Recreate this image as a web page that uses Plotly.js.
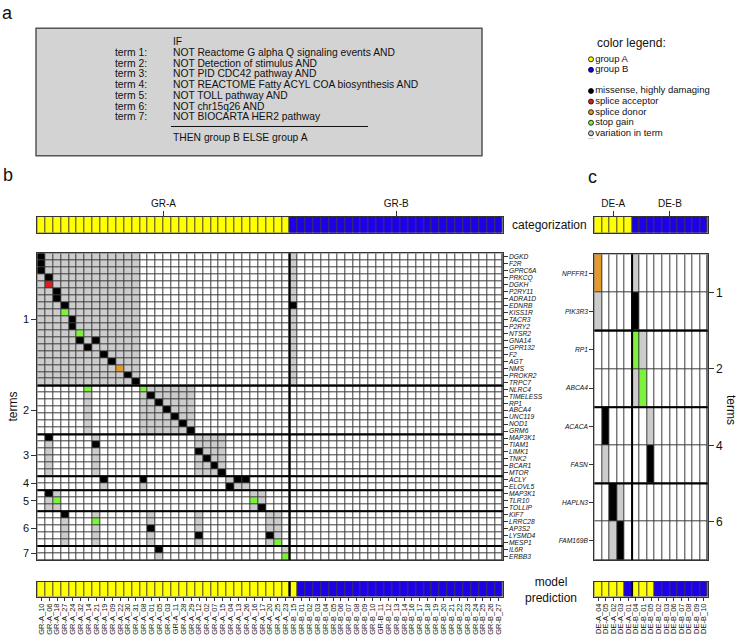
<!DOCTYPE html>
<html><head><meta charset="utf-8">
<script src="https://cdn.plot.ly/plotly-3.0.1.min.js"></script>
<style>html,body{margin:0;padding:0;background:#fff}</style>
</head><body><div id="chart" style="width:738px;height:640px"></div>
<script>
// ---------------- DATA ----------------
// panel a: rule
const ruleTerms = ['Reactome G alpha Q signaling events','Detection of stimulus','PID CDC42 pathway',
  'REACTOME Fatty ACYL COA biosynthesis','TOLL pathway','chr15q26','BIOCARTA HER2 pathway'];

// panel b: GR samples (column order)
const grSamples = ['GR-A_10','GR-A_06','GR-A_18','GR-A_27','GR-A_24','GR-A_32','GR-A_14','GR-A_21','GR-A_19','GR-A_09',
  'GR-A_22','GR-A_30','GR-A_31','GR-A_08','GR-A_01','GR-A_05','GR-A_03','GR-A_11','GR-A_28','GR-A_29','GR-A_12','GR-A_02',
  'GR-A_07','GR-A_15','GR-A_04','GR-A_13','GR-A_26','GR-A_16','GR-A_17','GR-A_20','GR-A_25','GR-A_23',
  'GR-B_15','GR-B_01','GR-B_02','GR-B_03','GR-B_04','GR-B_05','GR-B_06','GR-B_07','GR-B_08','GR-B_09','GR-B_10','GR-B_11',
  'GR-B_12','GR-B_13','GR-B_14','GR-B_16','GR-B_17','GR-B_18','GR-B_19','GR-B_20','GR-B_21','GR-B_22','GR-B_23','GR-B_24',
  'GR-B_25','GR-B_26','GR-B_27'];
const grCategory   = 'AAAAAAAAAAAAAAAAAAAAAAAAAAAAAAAABBBBBBBBBBBBBBBBBBBBBBBBBBB'.split('');
const grPrediction = 'AAAAAAAAAAAAAAAAAAAAAAAAAAAAAAAAABBBBBBBBBBBBBBBBBBBBBBBBBB'.split('');
const grGenes = ['DGKD','F2R','GPRC6A','PRKCQ','DGKH','P2RY11','ADRA1D','EDNRB','KISS1R','TACR3','P2RY2','NTSR2','GNA14',
  'GPR132','F2','AGT','NMS','PROKR2','TRPC7',
  'NLRC4','TIMELESS','RP1','ABCA4','UNC119','NOD1','GRM6',
  'MAP3K1','TIAM1','LIMK1','TNK2','BCAR1','MTOR',
  'ACLY','ELOVL5',
  'MAP3K1','TLR10','TOLLIP',
  'KIF7','LRRC28','AP3S2','LYSMD4','MESP1',
  'IL6R','ERBB3'];
const grGeneTerm = [1,1,1,1,1,1,1,1,1,1,1,1,1,1,1,1,1,1,1, 2,2,2,2,2,2,2, 3,3,3,3,3,3, 4,4, 5,5,5, 6,6,6,6,6, 7,7];
// variants: gene, term, sample, type
const grMutGene = ['DGKD','F2R','GPRC6A','PRKCQ','DGKH','P2RY11','ADRA1D','EDNRB','KISS1R','TACR3','P2RY2','NTSR2','GNA14',
  'GPR132','GNA14','F2','AGT','NMS','PROKR2','TRPC7','EDNRB',
  'NLRC4','NLRC4','TIMELESS','RP1','ABCA4','UNC119','NOD1','GRM6',
  'MAP3K1','TIAM1','LIMK1','TNK2','BCAR1','MTOR',
  'ACLY','ACLY','ELOVL5','ACLY','ACLY',
  'MAP3K1','TLR10','TLR10','TOLLIP',
  'KIF7','LRRC28','AP3S2','LYSMD4','LYSMD4','MESP1',
  'IL6R','ERBB3'];
const grMutTerm = [1,1,1,1,1,1,1,1,1,1,1,1,1,1,1,1,1,1,1,1,1, 2,2,2,2,2,2,2,2, 3,3,3,3,3,3, 4,4,4,4,4, 5,5,5,5, 6,6,6,6,6,6, 7,7];
const grMutSample = ['GR-A_10','GR-A_10','GR-A_10','GR-A_06','GR-A_06','GR-A_18','GR-A_18','GR-A_27','GR-A_27','GR-A_24','GR-A_24',
  'GR-A_32','GR-A_32','GR-A_14','GR-A_21','GR-A_19','GR-A_09','GR-A_22','GR-A_30','GR-A_31','GR-B_15',
  'GR-A_14','GR-A_08','GR-A_01','GR-A_05','GR-A_03','GR-A_11','GR-A_28','GR-A_29',
  'GR-A_06','GR-A_21','GR-A_12','GR-A_02','GR-A_07','GR-A_15',
  'GR-A_19','GR-A_08','GR-A_04','GR-A_13','GR-A_26',
  'GR-A_06','GR-A_18','GR-A_16','GR-A_17',
  'GR-A_27','GR-A_21','GR-A_01','GR-A_12','GR-A_20','GR-A_25',
  'GR-A_05','GR-A_23'];
const grMutType = ['M','M','M','M','SA','M','M','M','SG','M','M','SG','M','M','M','M','M','SD','M','M','M',
  'SG','SG','M','M','M','M','M','M',
  'M','M','M','M','M','M',
  'M','M','M','M','M',
  'M','SG','SG','M',
  'M','SG','M','M','M','SG',
  'M','SG'];

// panel c: DE samples
const deSamples = ['DE-A_04','DE-A_05','DE-A_02','DE-A_03','DE-A_01','DE-B_04','DE-B_01','DE-B_05','DE-B_02','DE-B_03',
  'DE-B_06','DE-B_07','DE-B_08','DE-B_09','DE-B_10'];
const deCategory   = 'AAAAABBBBBBBBBB'.split('');
const dePrediction = 'AAAABAAABBBBBBB'.split('');
const deGenes = ['NPFFR1','PIK3R3','RP1','ABCA4','ACACA','FASN','HAPLN3','FAM169B'];
const deGeneTerm = [1,1,2,2,4,4,6,6];
const deMutGene = ['NPFFR1','PIK3R3','RP1','ABCA4','ACACA','FASN','HAPLN3','FAM169B'];
const deMutTerm = [1,1,2,2,4,4,6,6];
const deMutSample = ['DE-A_04','DE-B_04','DE-B_04','DE-B_01','DE-A_05','DE-B_05','DE-A_02','DE-A_03'];
const deMutType = ['SD','M','SG','SG','M','M','M','M'];

// legend
const legendLabels = ['group A','group B','missense, highly damaging','splice acceptor','splice donor','stop gain','variation in term'];
const legendKeys   = ['A','B','M','SA','SD','SG','V'];

// ---------------- STYLE ----------------
const FONT = 'Liberation Sans, Arial, Helvetica, sans-serif';
const W = 738, H = 640;
const px = x => x / W, py = y => 1 - y / H;
const COLORS = {A:'#ffff00', B:'#1e00e6', N:'#ffffff', V:'#cccccc', M:'#000000', SA:'#d42020', SD:'#e39a2d', SG:'#7cf23c'};
const CODE = {N:0, V:1, M:2, SA:3, SD:4, SG:5};
const mutScale = [[0,COLORS.N],[0.1,COLORS.N],[0.1,COLORS.V],[0.3,COLORS.V],[0.3,COLORS.M],[0.5,COLORS.M],
  [0.5,COLORS.SA],[0.7,COLORS.SA],[0.7,COLORS.SD],[0.9,COLORS.SD],[0.9,COLORS.SG],[1,COLORS.SG]];
const grpScale = [[0,COLORS.A],[0.5,COLORS.A],[0.5,COLORS.B],[1,COLORS.B]];

function buildZ(genes, gTerm, samples, mGene, mTerm, mSample, mType) {
  const z = genes.map(() => samples.map(() => CODE.N));
  const rowOf = i => genes.findIndex((g, r) => g === mGene[i] && gTerm[r] === mTerm[i]);
  mGene.forEach((g, i) => {
    const c = samples.indexOf(mSample[i]);
    gTerm.forEach((t, r) => { if (t === mTerm[i] && z[r][c] === CODE.N) z[r][c] = CODE.V; });
  });
  mGene.forEach((g, i) => { z[rowOf(i)][samples.indexOf(mSample[i])] = CODE[mType[i]]; });
  return z;
}
function termCenters(gTerm) {
  const terms = [...new Set(gTerm)];
  return {vals: terms.map(t => (gTerm.indexOf(t) + gTerm.lastIndexOf(t)) / 2), text: terms.map(String)};
}
function termBounds(gTerm) {
  const b = []; for (let r = 0; r < gTerm.length - 1; r++) if (gTerm[r] !== gTerm[r+1]) b.push(r + 0.5); return b;
}
const groupBoundary = cats => cats.indexOf('B') - 0.5;
const groupCenters = cats => ['A','B'].map(g => (cats.indexOf(g) + cats.lastIndexOf(g)) / 2);
const idx = arr => arr.map((_, i) => i);

const grZ = buildZ(grGenes, grGeneTerm, grSamples, grMutGene, grMutTerm, grMutSample, grMutType);
const deZ = buildZ(deGenes, deGeneTerm, deSamples, deMutGene, deMutTerm, deMutSample, deMutType);

const hm = (z, xa, ya, scale, zmax, ygap) => ({type:'heatmap', z, x: idx(z[0]), y: idx(z), xaxis: xa, yaxis: ya,
  colorscale: scale, zmin: 0, zmax, showscale: false, xgap: 1, ygap, hoverinfo: 'skip'});
const grpZ = cats => [cats.map(g => g === 'A' ? 0 : 1)];

const traces = [
  hm(grZ, 'x', 'y', mutScale, 5, 1),
  hm(grpZ(grCategory), 'x2', 'y3', grpScale, 1, 0),
  hm(grpZ(grPrediction), 'x3', 'y4', grpScale, 1, 0),
  hm(deZ, 'x4', 'y5', mutScale, 5, 1),
  hm(grpZ(deCategory), 'x5', 'y7', grpScale, 1, 0),
  hm(grpZ(dePrediction), 'x6', 'y8', grpScale, 1, 0),
  {type:'scatter', x:[null], y:[null], xaxis:'x', yaxis:'y2', showlegend:false, hoverinfo:'skip'},
  {type:'scatter', x:[null], y:[null], xaxis:'x4', yaxis:'y6', showlegend:false, hoverinfo:'skip'},
  {type:'scatter', mode:'markers+text', xaxis:'x7', yaxis:'y9', cliponaxis:false, showlegend:false, hoverinfo:'skip',
    x: legendLabels.map(() => 0), y: legendKeys.map((k, i) => i < 2 ? i : i + 1),
    text: legendLabels, textposition:'middle right', textfont:{family:FONT, size:9.5, color:'#111'},
    marker:{size:5, color: legendKeys.map(k => COLORS[k]), line:{color:'#000', width:0.8}}}
];

// ---------------- LAYOUT ----------------
const base = {showgrid:false, zeroline:false, showline:true, mirror:true, linecolor:'#333', linewidth:1,
  ticks:'', showticklabels:false, fixedrange:true};
const bX = [px(37.3), px(502.7)], cX = [px(594.3), px(707.7)];
const gridY = [py(560), py(253.3)], cGridY = [py(560), py(254.3)];
const catY = [py(232.7), py(216.7)], predY = [py(596.5), py(581.5)];
const nGR = grSamples.length, nDE = deSamples.length;
const grTC = termCenters(grGeneTerm), deTC = termCenters(deGeneTerm);
const tickF = s => ({family:FONT, size:s, color:'#111'});
const geneF = {family:FONT, size:6.7, color:'#111', style:'italic'};

const layout = {
  width: W, height: H, autosize: false, margin:{l:0,r:0,t:0,b:0},
  paper_bgcolor:'#ffffff', plot_bgcolor:'#3a3a3a', showlegend:false,
  font:{family:FONT, color:'#111'},
  xaxis:  {...base, domain:bX, range:[-0.5, nGR-0.5], anchor:'y'},
  yaxis:  {...base, domain:gridY, range:[grGenes.length-0.5, -0.5], anchor:'x', ticks:'outside', ticklen:5,
           tickcolor:'#333', showticklabels:true, tickvals:grTC.vals, ticktext:grTC.text, tickfont:tickF(11)},
  yaxis2: {showgrid:false, zeroline:false, showline:false, fixedrange:true, overlaying:'y', side:'right', anchor:'x',
           range:[grGenes.length-0.5, -0.5], tickvals:idx(grGenes), ticktext:grGenes, ticks:'outside', ticklen:4,
           tickcolor:'#333', tickfont:geneF},
  xaxis2: {...base, domain:bX, range:[-0.5, nGR-0.5], anchor:'y3', side:'top', ticks:'outside', ticklen:5,
           tickcolor:'#333', showticklabels:true, tickvals:groupCenters(grCategory), ticktext:['GR-A','GR-B'], tickfont:tickF(10)},
  yaxis3: {...base, domain:catY, range:[-0.5,0.5], anchor:'x2'},
  xaxis3: {...base, domain:bX, range:[-0.5, nGR-0.5], anchor:'y4', side:'bottom', ticks:'outside', ticklen:3,
           tickcolor:'#333', showticklabels:true, tickvals:idx(grSamples), ticktext:grSamples, tickangle:-90, tickfont:tickF(7.5)},
  yaxis4: {...base, domain:predY, range:[-0.5,0.5], anchor:'x3'},
  xaxis4: {...base, domain:cX, range:[-0.5, nDE-0.5], anchor:'y5'},
  yaxis5: {...base, domain:cGridY, range:[deGenes.length-0.5, -0.5], anchor:'x4', side:'left', ticks:'outside', ticklen:4,
           tickcolor:'#333', showticklabels:true, tickvals:idx(deGenes), ticktext:deGenes, tickfont:geneF},
  yaxis6: {showgrid:false, zeroline:false, showline:false, fixedrange:true, overlaying:'y5', side:'right', anchor:'x4',
           range:[deGenes.length-0.5, -0.5], tickvals:deTC.vals, ticktext:deTC.text, ticks:'outside', ticklen:5,
           tickcolor:'#333', tickfont:tickF(12)},
  xaxis5: {...base, domain:cX, range:[-0.5, nDE-0.5], anchor:'y7', side:'top', ticks:'outside', ticklen:5,
           tickcolor:'#333', showticklabels:true, tickvals:groupCenters(deCategory), ticktext:['DE-A','DE-B'], tickfont:tickF(10)},
  yaxis7: {...base, domain:catY, range:[-0.5,0.5], anchor:'x5'},
  xaxis6: {...base, domain:cX, range:[-0.5, nDE-0.5], anchor:'y8', side:'bottom', ticks:'outside', ticklen:3,
           tickcolor:'#333', showticklabels:true, tickvals:idx(deSamples), ticktext:deSamples, tickangle:-90, tickfont:tickF(7.5)},
  yaxis8: {...base, domain:predY, range:[-0.5,0.5], anchor:'x6'},
  xaxis7: {visible:false, domain:[px(588), px(594)], range:[-0.5,0.5], fixedrange:true, anchor:'y9'},
  yaxis9: {visible:false, domain:[py(138.6), py(54)], range:[7.5,-0.5], fixedrange:true, anchor:'x7'},
  shapes: [], annotations: []
};

const S = layout.shapes, A = layout.annotations;
// legend subplot background
S.push({type:'rect', xref:'x7 domain', yref:'y9 domain', x0:0, x1:1, y0:0, y1:1, layer:'below', fillcolor:'#fff', line:{width:0}});
// thick separators
const vline = (xa, ya, x) => S.push({type:'line', xref:xa, yref:ya + ' domain', x0:x, x1:x, y0:0, y1:1, line:{color:'#000', width:2}});
const hline = (xa, ya, y) => S.push({type:'line', xref:xa + ' domain', yref:ya, x0:0, x1:1, y0:y, y1:y, line:{color:'#000', width:2}});
vline('x', 'y', groupBoundary(grCategory));
termBounds(grGeneTerm).forEach(y => hline('x', 'y', y));
vline('x3', 'y4', groupBoundary(grCategory));
vline('x4', 'y5', groupBoundary(deCategory));
termBounds(deGeneTerm).forEach(y => hline('x4', 'y5', y));
vline('x6', 'y8', groupBoundary(deCategory));

// panel a box
S.push({type:'rect', xref:'paper', yref:'paper', x0:px(36), x1:px(482), y0:py(155.7), y1:py(28.3),
  fillcolor:'#d3d3d3', line:{color:'#555', width:1.5}, layer:'below'});
S.push({type:'line', xref:'paper', yref:'paper', x0:px(171), x1:px(368), y0:py(126.5), y1:py(126.5), line:{color:'#111', width:1}});
const ann = (x, y, text, size, extra) => A.push(Object.assign({xref:'paper', yref:'paper', x:px(x), y:py(y), text,
  showarrow:false, xanchor:'left', yanchor:'middle', font:{family:FONT, size, color:'#111'}}, extra || {}));
ann(171, 41.8, 'IF', 10.3);
ruleTerms.forEach((t, i) => {
  ann(113, 52.5 + 10.7 * i, 'term ' + (i + 1) + ':', 10.3);
  ann(171, 52.5 + 10.7 * i, 'NOT ' + t + (i < ruleTerms.length - 1 ? ' AND' : ''), 10.3);
});
ann(171, 137, 'THEN group B ELSE group A', 10.3);
// panel letters
ann(7.5, 13, 'a', 18, {xanchor:'center'});
ann(7.5, 175, 'b', 18, {xanchor:'center'});
ann(592, 177, 'c', 18, {xanchor:'center'});
// legend title
ann(595, 43, 'color legend:', 12);
// bar labels
ann(549.5, 225, 'categorization', 12, {xanchor:'center'});
ann(551, 589.5, 'model<br>prediction', 12, {xanchor:'center'});
// axis titles
ann(12, 406.5, 'terms', 12, {xanchor:'center', textangle:-90});
ann(731, 410, 'terms', 12, {xanchor:'center', textangle:90});

Plotly.newPlot('chart', traces, layout, {staticPlot:true, displayModeBar:false});
</script></body></html>
